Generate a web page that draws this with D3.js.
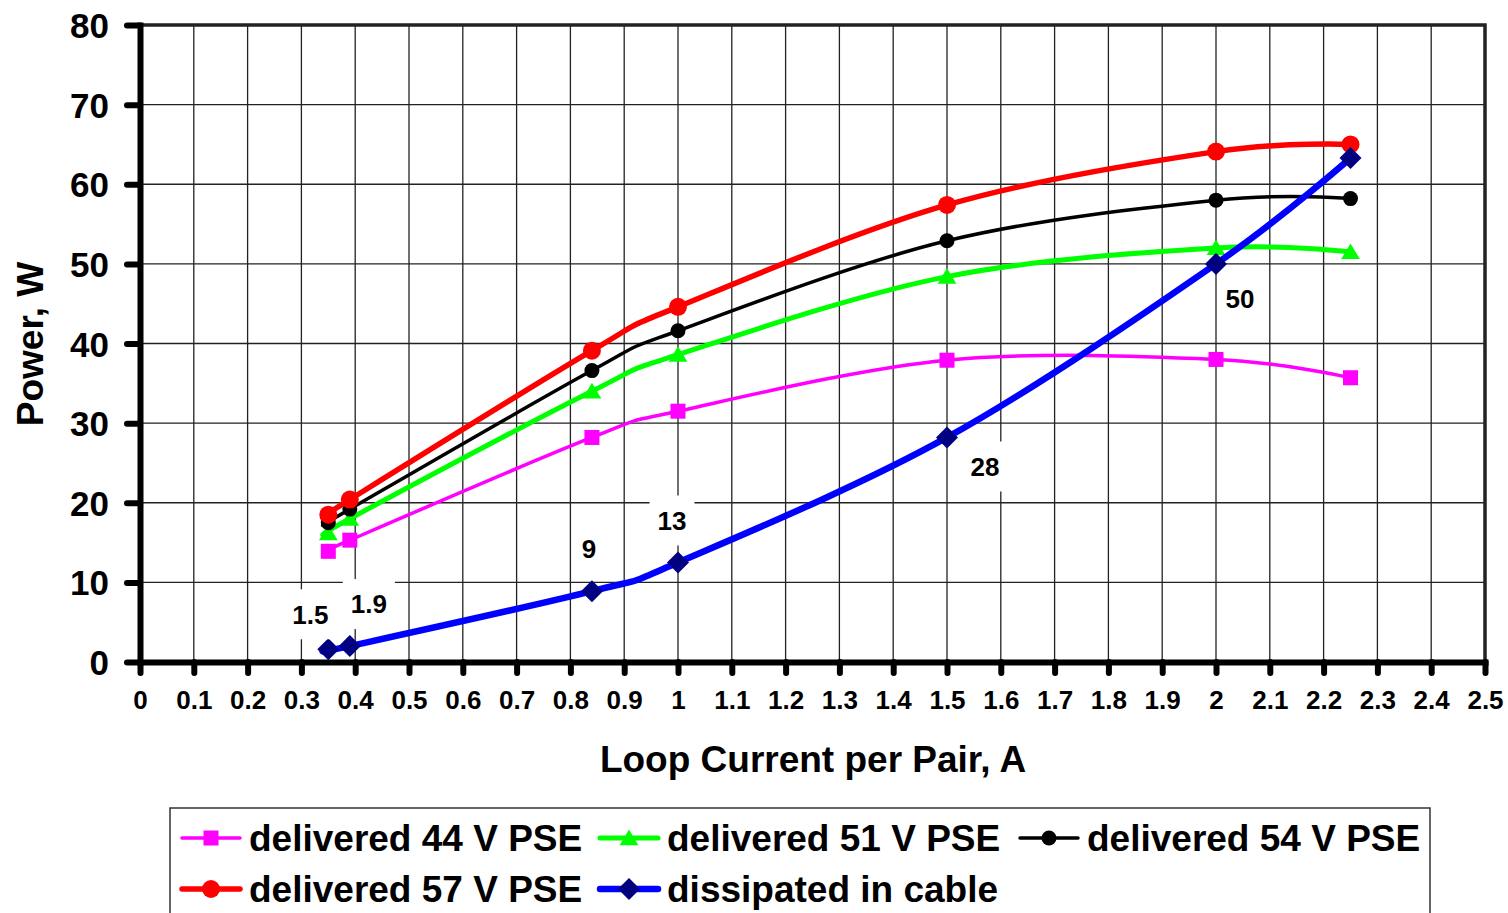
<!DOCTYPE html>
<html>
<head>
<meta charset="utf-8">
<script src="https://cdn.jsdelivr.net/npm/d3@7"></script>
<style>
  body { margin: 0; background: #fff; }
  svg { display: block; font-family: "Liberation Sans", Arial, sans-serif; font-weight: bold; }
</style>
</head>
<body>
<div id="chart"></div>
<script>
const width = 1508;
const height = 913;

// loop current per pair, A
const current = [0.35, 0.39, 0.84, 1.0, 1.5, 2.0, 2.25];
// power, W
const delivered44 = [13.9, 15.3, 28.2, 31.5, 37.9, 38.0, 35.7];
const delivered51 = [16.2, 18.0, 34.0, 38.6, 48.4, 52.0, 51.5];
const delivered54 = [17.5, 19.2, 36.6, 41.6, 52.9, 58.0, 58.2];
const delivered57 = [18.5, 20.4, 39.1, 44.6, 57.4, 64.1, 65.0];
const dissipated = [1.6, 2.0, 8.9, 12.5, 28.2, 50.0, 63.3];
const cableLabels = ['1.5', '1.9', '9', '13', '28', '50', ''];

const xTicks = d3.range(0, 26).map(d => d / 10);
const yTicks = d3.range(0, 9).map(d => d * 10);

const series = [
    { name: 'delivered 44 V PSE', values: delivered44, color: '#ff00ff', width: 3.5, marker: 'square', size: 15, fill: '#ff00ff' },
    { name: 'delivered 51 V PSE', values: delivered51, color: '#00ff00', width: 5, marker: 'triangle', size: 17, fill: '#00ff00' },
    { name: 'delivered 54 V PSE', values: delivered54, color: '#000000', width: 3.5, marker: 'circle', size: 7.5, fill: '#000000' },
    { name: 'delivered 57 V PSE', values: delivered57, color: '#ff0000', width: 5.5, marker: 'circle', size: 9, fill: '#ff0000' },
    { name: 'dissipated in cable', values: dissipated, color: '#0000ff', width: 6.5, marker: 'diamond', size: 11, fill: '#000080' }
];

// label offsets (px) from the point, for the cable labels
const labelOffsets = [[-18, -35], [19, -42], [-3, -42], [-6, -42], [38, 29], [24, 35], [0, 0]];

const svg = d3.select('#chart')
    .append('svg')
    .attr('width', width)
    .attr('height', height);

const plot = { left: 140, right: 1485, top: 25, bottom: 662 };

const x = d3.scaleLinear().domain([0, 2.5]).range([plot.left, plot.right]);
const y = d3.scaleLinear().domain([0, 80]).range([plot.bottom, plot.top]);

// gridlines
const grid = svg.append('g').attr('stroke', '#222').attr('stroke-width', 1.3);
grid.selectAll('.vx')
    .data(xTicks.slice(1, -1))
    .join('line')
    .attr('x1', d => x(d)).attr('x2', d => x(d))
    .attr('y1', plot.top).attr('y2', plot.bottom);
grid.selectAll('.hy')
    .data(yTicks.slice(1, -1))
    .join('line')
    .attr('x1', plot.left).attr('x2', plot.right)
    .attr('y1', d => y(d)).attr('y2', d => y(d));

// top and right frame
svg.append('path')
    .attr('d', `M${plot.left},${plot.top}H${plot.right}V${plot.bottom}`)
    .attr('fill', 'none')
    .attr('stroke', '#222')
    .attr('stroke-width', 3.5);

// axes
const xAxis = svg.append('g')
    .attr('transform', `translate(0,${plot.bottom})`)
    .call(d3.axisBottom(x).tickValues(xTicks).tickFormat(d => d3.format('')(+d.toFixed(1))).tickSize(11).tickSizeOuter(0).tickPadding(18));
const yAxis = svg.append('g')
    .attr('transform', `translate(${plot.left},0)`)
    .call(d3.axisLeft(y).tickValues(yTicks).tickSize(13).tickSizeOuter(0).tickPadding(18));

[xAxis, yAxis].forEach(g => {
    g.select('.domain').attr('stroke', '#000').attr('stroke-width', 6).attr('stroke-linecap', 'square');
    g.selectAll('.tick line').attr('stroke', '#000').attr('stroke-width', 6).attr('stroke-linecap', 'round');
    g.selectAll('.tick text').attr('fill', '#000').attr('font-family', '"Liberation Sans", Arial, sans-serif').attr('font-weight', 'bold');
});
xAxis.selectAll('.tick text').attr('font-size', 26);
yAxis.selectAll('.tick text').attr('font-size', 35).attr('dy', '0.36em');

// axis titles
svg.append('text')
    .attr('x', 813).attr('y', 772)
    .attr('text-anchor', 'middle')
    .attr('font-size', 37)
    .text('Loop Current per Pair, A');
svg.append('text')
    .attr('transform', 'translate(43,344) rotate(-90)')
    .attr('text-anchor', 'middle')
    .attr('font-size', 37)
    .text('Power, W');

// markers
function drawMarker(g, s, cx, cy, scale = 1) {
    const r = s.size * scale;
    if (s.marker === 'square') {
        g.append('rect').attr('x', cx - r / 2).attr('y', cy - r / 2).attr('width', r).attr('height', r).attr('fill', s.fill);
    } else if (s.marker === 'triangle') {
        g.append('path').attr('d', `M${cx},${cy - r * 0.5}L${cx + r * 0.55},${cy + r * 0.42}L${cx - r * 0.55},${cy + r * 0.42}Z`).attr('fill', s.fill);
    } else if (s.marker === 'circle') {
        g.append('circle').attr('cx', cx).attr('cy', cy).attr('r', r).attr('fill', s.fill);
    } else if (s.marker === 'diamond') {
        g.append('path').attr('d', `M${cx},${cy - r}L${cx + r},${cy}L${cx},${cy + r}L${cx - r},${cy}Z`).attr('fill', s.fill);
    }
}

const line = d3.line()
    .x(d => x(d[0]))
    .y(d => y(d[1]))
    .curve(d3.curveCardinal.tension(0));

series.forEach(s => {
    const pts = current.map((c, i) => [c, s.values[i]]);
    const g = svg.append('g');
    g.append('path')
        .attr('d', line(pts))
        .attr('fill', 'none')
        .attr('stroke', s.color)
        .attr('stroke-width', s.width)
        .attr('stroke-linejoin', 'round')
        .attr('stroke-linecap', 'round');
    pts.forEach(p => drawMarker(g, s, x(p[0]), y(p[1])));
});

// cable data labels with white boxes
const labels = svg.append('g');
cableLabels.forEach((t, i) => {
    if (!t) return;
    const cx = x(current[i]) + labelOffsets[i][0];
    const cy = y(dissipated[i]) + labelOffsets[i][1];
    const txt = labels.append('text')
        .attr('x', cx).attr('y', cy)
        .attr('dy', '0.36em')
        .attr('text-anchor', 'middle')
        .attr('font-size', 26)
        .text(t);
    const w = txt.node().getComputedTextLength();
    labels.insert('rect', 'text')
        .attr('x', cx - w / 2 - 8).attr('y', cy - 25)
        .attr('width', w + 16).attr('height', 50)
        .attr('fill', '#fff');
});

// legend
const legend = svg.append('g');
legend.append('rect')
    .attr('x', 170).attr('y', 808)
    .attr('width', 1260).attr('height', 130)
    .attr('fill', '#fff')
    .attr('stroke', '#333')
    .attr('stroke-width', 1.5);

const legendPos = [[182, 838], [600, 838], [1020, 838], [182, 889], [600, 889]];
series.forEach((s, i) => {
    const [lx, ly] = legendPos[i];
    legend.append('line')
        .attr('x1', lx).attr('x2', lx + 58)
        .attr('y1', ly).attr('y2', ly)
        .attr('stroke', s.color)
        .attr('stroke-width', s.width)
        .attr('stroke-linecap', 'round');
    drawMarker(legend, s, lx + 29, ly);
    legend.append('text')
        .attr('x', lx + 67).attr('y', ly)
        .attr('dy', '0.36em')
        .attr('font-size', 37)
        .text(s.name);
});
</script>
</body>
</html>
